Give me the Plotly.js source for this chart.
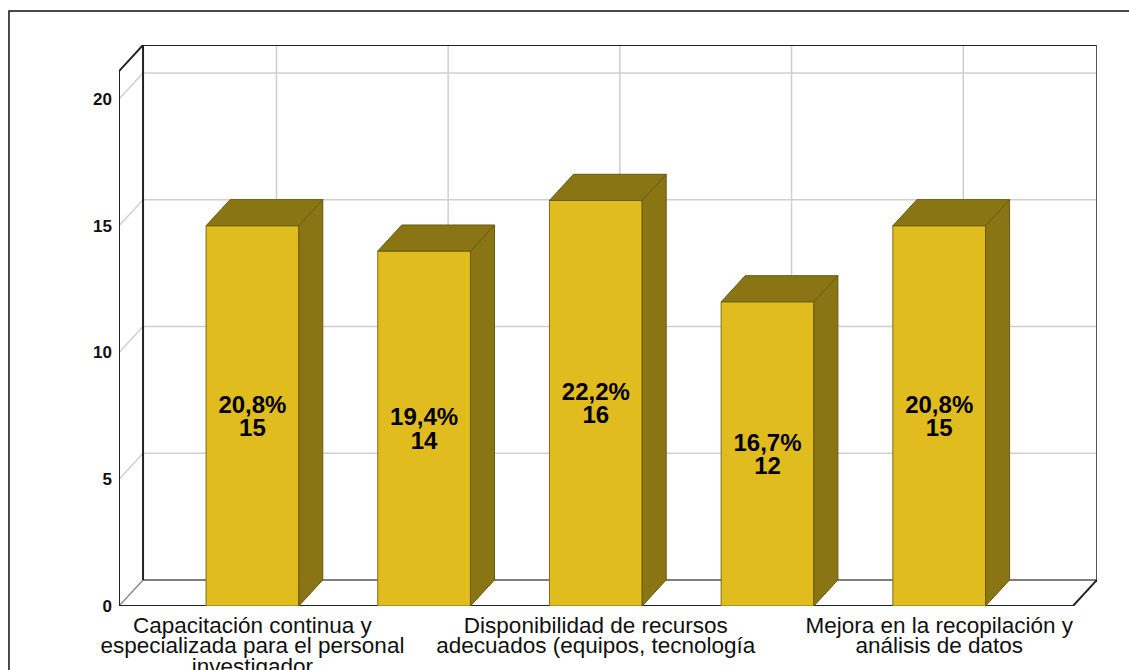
<!DOCTYPE html>
<html>
<head>
<meta charset="utf-8">
<script src="https://cdn.plot.ly/plotly-3.0.1.min.js"></script>
<style>html,body{margin:0;padding:0;background:#fff;}#chart{width:1129px;height:670px;}</style>
</head>
<body>
<div id="chart"></div>
<script>
// ---- data ----
const counts = [15, 14, 16, 12, 15];
const percents = [20.8, 19.4, 22.2, 16.7, 20.8];
const categoryLabels = [
  "Capacitación continua y<br>especializada para el personal<br>investigador",
  "",
  "Disponibilidad de recursos<br>adecuados (equipos, tecnología",
  "",
  "Mejora en la recopilación y<br>análisis de datos"
];
const yTicks = [0, 5, 10, 15, 20];

// ---- geometry / style ----
const BAR_W = 0.54;      // bar width in category units
const DX = 0.14;         // depth offset (x units)
const DY = 1.03;         // depth offset (y units)
const YTOP = 21.1;       // top of the walls
const XL = -0.777, XR = 4.779;
const FRONT = '#E0BC1F', FRONT_LINE = '#7d6c14';
const DARK = '#8A7515', DARK_LINE = '#6a5a0f';
const FONT = 'Arial, "Liberation Sans", sans-serif';

const xs = counts.map((_, i) => i);

const traces = [];
xs.forEach((x, i) => {
  const v = counts[i];
  const l = x - BAR_W / 2, r = x + BAR_W / 2;
  // right side face
  traces.push({
    type: 'scatter', mode: 'lines', fill: 'toself', fillcolor: DARK,
    line: {color: DARK_LINE, width: 1}, hoverinfo: 'skip', showlegend: false,
    x: [r, r, r + DX, r + DX, r], y: [0, v, v + DY, DY, 0]
  });
  // top face
  traces.push({
    type: 'scatter', mode: 'lines', fill: 'toself', fillcolor: DARK,
    line: {color: DARK_LINE, width: 1}, hoverinfo: 'skip', showlegend: false,
    x: [l, r, r + DX, l + DX, l], y: [v, v, v + DY, v + DY, v]
  });
});

const fmt = p => p.toFixed(1).replace('.', ',') + '%';
traces.push({
  type: 'bar', x: xs, y: counts, width: BAR_W,
  marker: {color: FRONT, line: {color: FRONT_LINE, width: 1}},
  text: counts.map((c, i) => '<span style="font-size:24px">' + fmt(percents[i]) + '</span><br><span style="font-size:24px">' + c + '</span>'),
  textposition: 'inside', insidetextanchor: 'middle', textangle: 0,
  constraintext: 'none',
  textfont: {family: FONT, size: 18, color: '#000', weight: 'bold'},
  hoverinfo: 'skip', showlegend: false
});

// ---- walls ----
const shapes = [];
const line = (x0, y0, x1, y1, color, width) => shapes.push({
  type: 'line', xref: 'x', yref: 'y', x0, y0, x1, y1, layer: 'below',
  line: {color, width}
});
const GRID = '#cfcfcf';
yTicks.filter(t => t > 0).forEach(t => {
  line(XL + DX, t + DY, XR + DX, t + DY, GRID, 1.5);
  line(XL, t, XL + DX, t + DY, GRID, 1.5);
});
xs.forEach(x => line(x + DX, DY, x + DX, YTOP + DY, GRID, 1.5));
line(XL, 0, XL + DX, DY, '#8c8c8c', 1.5);
line(XL + DX, DY, XR + DX, DY, '#555', 1.5);
line(XL, 0, XL, YTOP, '#222', 2);
line(XL, YTOP, XL + DX, YTOP + DY, '#222', 2);
line(XL + DX, DY, XL + DX, YTOP + DY, '#222', 2);
line(XL + DX, YTOP + DY, XR + DX, YTOP + DY, '#222', 2);
line(XR + DX, DY, XR + DX, YTOP + DY, '#555', 2);
line(XL, 0, XR, 0, '#222', 2);
line(XR, 0, XR + DX, DY, '#222', 2);
// outer frame of the output
shapes.push({type: 'rect', xref: 'paper', yref: 'paper',
  x0: -0.1125, y0: -0.14, x1: 1.05, y1: 1.0606,
  line: {color: '#111', width: 1.5}, fillcolor: 'rgba(0,0,0,0)', layer: 'above'});

const tickIdx = xs.filter(i => categoryLabels[i] !== '');
const layout = {
  width: 1129, height: 670,
  margin: {l: 119, r: 32, t: 45, b: 64},
  paper_bgcolor: '#fff', plot_bgcolor: '#fff',
  showlegend: false,
  xaxis: {
    range: [XL, XR + DX], showgrid: false, zeroline: false, showline: false,
    tickvals: tickIdx,
    ticktext: tickIdx.map(i => categoryLabels[i].split('<br>').map(s => '<span style="font-size:22.5px">' + s + '</span>').join('<br>')),
    tickfont: {family: FONT, size: 15.8, color: '#111'}, ticks: '', ticklabelstandoff: 10,
    fixedrange: true
  },
  yaxis: {
    range: [0, YTOP + DY], showgrid: false, zeroline: false, showline: false,
    tickvals: yTicks, ticktext: yTicks.map(String),
    tickfont: {family: FONT, size: 17, color: '#111', weight: 'bold'}, ticks: '',
    ticklabelstandoff: 6, fixedrange: true
  },
  shapes: shapes,
  bargap: 0
};
Plotly.newPlot('chart', traces, layout, {staticPlot: true, displayModeBar: false});
</script>
</body>
</html>
